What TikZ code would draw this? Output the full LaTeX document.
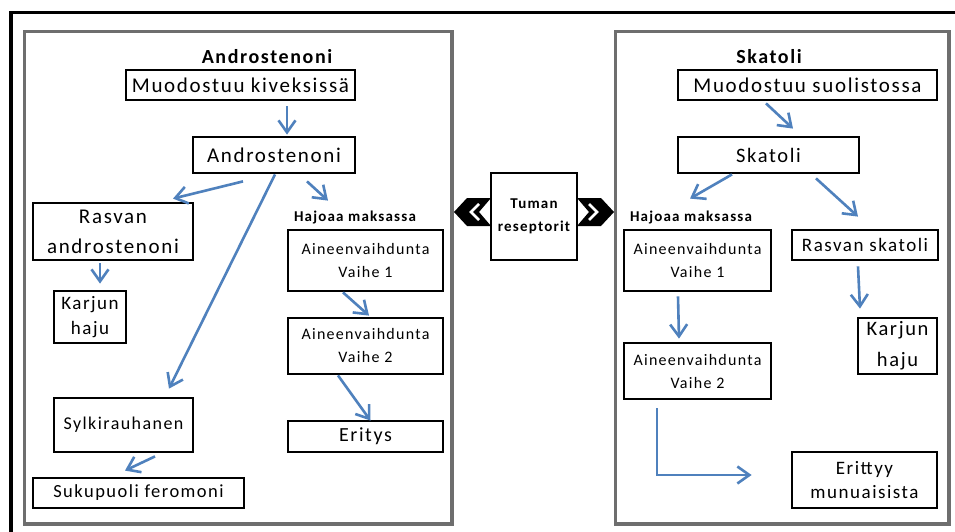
\documentclass[tikz,border=0pt]{standalone}
\usepackage{fontspec}
\setmainfont{Carlito}[LetterSpace=8]
\usetikzlibrary{arrows.meta}
\definecolor{arrowblue}{RGB}{79,129,189}
\definecolor{panelgray}{RGB}{110,110,110}
\newcommand\fs[2]{\fontsize{#1}{#2}\selectfont}
\tikzset{
  box/.style={draw, line width=2.8pt, inner sep=0pt, align=center},
  panel/.style={draw=panelgray, line width=3.5pt},
  arr/.style={draw=arrowblue, line width=2.6pt, -{Straight Barb[length=12pt,width=17pt]}},
  ttl/.style={font=\fs{20}{24}\bfseries, inner sep=0pt},
  sub/.style={font=\fs{15}{18}\bfseries, inner sep=0pt},
  chev/.style={fill=black},
}
\begin{document}
\begin{tikzpicture}[x=1pt,y=-1pt]
\useasboundingbox (0,0) rectangle (955,532);
\fill[white] (0,0) rectangle (955,532);
% outer frame (top and left edges visible)
\draw[line width=3.5pt] (955,12.5) -- (11,12.5) -- (11,532);
% panels
\draw[panel] (24.5,31.5) rectangle (452,524);
\draw[panel] (615.5,31.5) rectangle (949,524);

% ---------- left panel ----------
\node[ttl] (t1) at (267,57) {Androstenoni};
\node[box, minimum width=229pt, minimum height=30pt, font=\fs{21}{30}] (m1) at (240.5,85) {Muodostuu kiveksissä};
\node[box, minimum width=162pt, minimum height=36pt, font=\fs{21}{30}] (a1) at (274,155) {Androstenoni};
\node[box, minimum width=160pt, minimum height=57pt, font=\fs{21}{30}] (ra) at (113,231.5) {Rasvan\\androstenoni};
\node[box, minimum width=72pt, minimum height=52pt, font=\fs{19}{25}] (kh1) at (90,317) {Karjun\\haju};
\node[sub] (h1) at (355,218) {Hajoaa maksassa};
\node[box, minimum width=155pt, minimum height=61pt, font=\fs{16}{23}] (v1) at (365.5,260.5) {Aineenvaihdunta\\Vaihe 1};
\node[box, minimum width=155pt, minimum height=56pt, font=\fs{16}{23}] (v2) at (365.5,346) {Aineenvaihdunta\\Vaihe 2};
\node[box, minimum width=155pt, minimum height=31pt, font=\fs{20}{28}] (er) at (365.5,436.5) {Eritys};
\node[box, minimum width=139pt, minimum height=54pt, font=\fs{18}{24}] (sy) at (123.5,425) {Sylkirauhanen};
\node[box, minimum width=211pt, minimum height=30pt, font=\fs{18.5}{24}] (su) at (138.5,493) {Sukupuoli feromoni};

\draw[arr] ([xshift=46.5pt,yshift=-5pt]m1.south) -- ([xshift=13pt,yshift=1pt]a1.north);
\draw[arr] ([xshift=-31pt,yshift=-7pt]a1.south) -- ([xshift=60pt,yshift=3pt]ra.north);
\draw[arr] ([xshift=1pt]a1.south) -- ([xshift=45.5pt,yshift=8pt]sy.north);
\draw[arr] ([xshift=33pt,yshift=-7pt]a1.south) -- ([xshift=-37.5pt,yshift=28pt]v1.north);
\draw[arr] ([xshift=-13pt,yshift=-2pt]ra.south) -- ([xshift=10pt,yshift=6pt]kh1.north);
\draw[arr] ([xshift=-22.5pt]v1.south) -- ([xshift=3.5pt,yshift=1pt]v2.north);
\draw[arr] ([xshift=-27.5pt]v2.south) -- ([xshift=5pt,yshift=-1pt]er.north);
\draw[arr] ([xshift=31.5pt,yshift=-3pt]sy.south) -- ([xshift=-13.5pt,yshift=6pt]su.north);

% ---------- middle ----------
\node[box, minimum width=86pt, minimum height=87pt, font=\fs{15}{23}\bfseries] (tr) at (534,216.5) {Tuman\\reseptorit};
\fill[chev] (454,212) -- (467,198) -- (491,198) -- (479,212) -- (491,226) -- (467,226) -- cycle;
\draw[white, line width=2.6pt, line join=miter] (479,204) -- (471,212) -- (479,220);
\fill[chev] (614,212) -- (601,198) -- (577,198) -- (589,212) -- (577,226) -- (601,226) -- cycle;
\draw[white, line width=2.6pt, line join=miter] (589,204) -- (597,212) -- (589,220);

% ---------- right panel ----------
\node[ttl] (t2) at (769,57) {Skatoli};
\node[box, minimum width=259pt, minimum height=30pt, font=\fs{21}{30}] (m2) at (807.5,85) {Muodostuu suolistossa};
\node[box, minimum width=181pt, minimum height=36pt, font=\fs{20.5}{30}] (sk) at (768.5,155) {Skatoli};
\node[sub] (h2) at (691,218) {Hajoaa maksassa};
\node[box, minimum width=147pt, minimum height=61pt, font=\fs{16}{23}] (v1r) at (697.5,260.5) {Aineenvaihdunta\\Vaihe 1};
\node[box, minimum width=146pt, minimum height=30pt, font=\fs{19}{26}] (rs) at (865,245) {Rasvan skatoli};
\node[box, minimum width=79pt, minimum height=56pt, font=\fs{20.5}{31}] (kh2) at (897.5,346) {Karjun\\haju};
\node[box, minimum width=147pt, minimum height=56pt, font=\fs{16}{23}] (v2r) at (697.5,371) {Aineenvaihdunta\\Vaihe 2};
\node[box, minimum width=145pt, minimum height=56pt, font=\fs{19}{24}] (eri) at (864.5,480) {Erittyy\\munuaisista};

\draw[arr] ([xshift=-41.5pt,yshift=-2pt]m2.south) -- ([xshift=24.5pt,yshift=7pt]sk.north);
\draw[arr] ([xshift=-36.5pt]sk.south) -- ([xshift=-7.5pt,yshift=30pt]v1r.north);
\draw[arr] ([xshift=47.5pt,yshift=-4pt]sk.south) -- ([xshift=-7pt,yshift=12pt]rs.north);
\draw[arr] ([xshift=-7pt,yshift=-5pt]rs.south) -- ([xshift=-37.5pt,yshift=8pt]kh2.north);
\draw[arr] ([xshift=-19.5pt,yshift=-4pt]v1r.south) -- ([xshift=-18.5pt,yshift=3pt]v2r.north);
\draw[arr, line join=miter] ([xshift=-40.5pt,yshift=-8pt]v2r.south) |- ([xshift=-39pt,yshift=5pt]eri.west);
\end{tikzpicture}
\end{document}
